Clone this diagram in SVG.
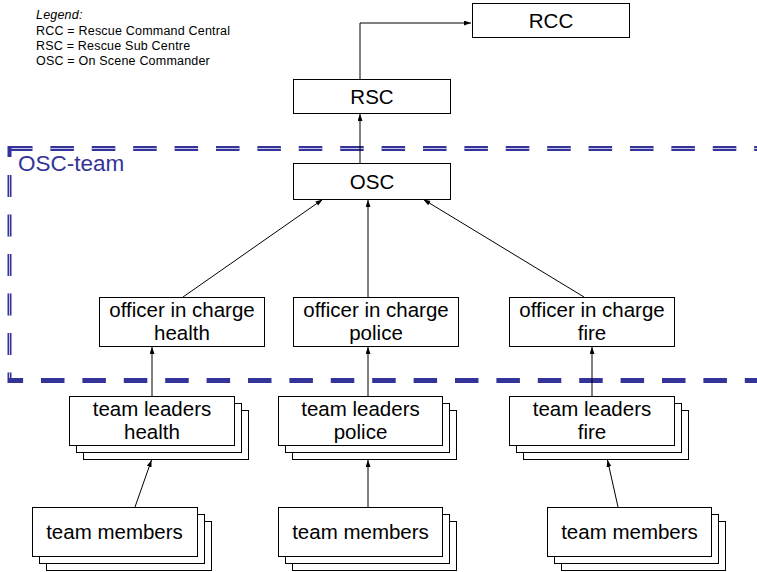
<svg xmlns="http://www.w3.org/2000/svg" width="757" height="572" viewBox="0 0 757 572">
<defs>
<marker id="arr" markerUnits="userSpaceOnUse" markerWidth="8" markerHeight="6" refX="7" refY="2.5" orient="auto"><path d="M0,0 L7,2.5 L0,5 z" fill="#000"/></marker>
<style>
.box{fill:#fff;stroke:#000;stroke-width:1}
.t{font-family:"Liberation Sans",Arial,sans-serif;font-size:20.5px;fill:#000;text-anchor:middle}
.lg{font-family:"Liberation Sans",Arial,sans-serif;font-size:12.5px;fill:#000;letter-spacing:0.2px}
.c{fill:none;stroke:#000;stroke-width:1;marker-end:url(#arr)}
.dl{fill:none;stroke:#333399}
</style>
</defs>
<rect width="757" height="572" fill="#fff"/>
<g id="legend">
<text class="lg" x="36" y="18.5" font-style="italic">Legend:</text>
<text class="lg" x="36" y="35">RCC = Rescue Command Central</text>
<text class="lg" x="36" y="50">RSC = Rescue Sub Centre</text>
<text class="lg" x="36" y="65">OSC = On Scene Commander</text>
</g>
<g id="osc-team">
<line class="dl" x1="9" y1="148.5" x2="757" y2="148.5" stroke-width="5" stroke-dasharray="23.5 17.9"/>
<line x1="9" y1="148.5" x2="757" y2="148.5" stroke="#c4c4e4" stroke-width="1.2" stroke-dasharray="23.5 17.9"/>
<line class="dl" x1="9.5" y1="146" x2="9.5" y2="157" stroke-width="4"/>
<line class="dl" x1="9.5" y1="175" x2="9.5" y2="383" stroke-width="4" stroke-dasharray="22 17.5"/>
<line x1="9.5" y1="175" x2="9.5" y2="383" stroke="#c4c4e4" stroke-width="1" stroke-dasharray="22 17.5"/>
<line class="dl" x1="8" y1="380.5" x2="757" y2="380.5" stroke-width="5" stroke-dasharray="23.5 17.9" stroke-dashoffset="8.4"/>
<text x="18" y="170.5" font-family="Liberation Sans, Arial, sans-serif" font-size="22.5px" fill="#333399">OSC-team</text>
</g>
<g id="connectors">
<path class="c" d="M360 79 V23 H471"/>
<path class="c" d="M360 163 V114"/>
<path class="c" d="M183 297 L322.5 199.5"/>
<path class="c" d="M368 297 V200"/>
<path class="c" d="M584 297 L423.5 199.5"/>
<path class="c" d="M152 396 V347"/>
<path class="c" d="M368 396 V347"/>
<path class="c" d="M592 396 V347"/>
<path class="c" d="M135 507 L151.5 460"/>
<path class="c" d="M368 507 V460"/>
<path class="c" d="M618 507 L607.5 460"/>
</g>
<g id="rcc"><rect class="box" x="472.5" y="3.5" width="157" height="34"/><text class="t" x="551" y="27.5">RCC</text></g>
<g id="rsc"><rect class="box" x="293.5" y="79.5" width="157" height="34"/><text class="t" x="372" y="104">RSC</text></g>
<g id="osc"><rect class="box" x="293.5" y="163.5" width="157" height="36"/><text class="t" x="372" y="188.5">OSC</text></g>
<g id="oic-health"><rect class="box" x="99.5" y="297.5" width="165" height="49"/><text class="t" x="182" y="317">officer in charge</text><text class="t" x="182" y="340">health</text></g>
<g id="oic-police"><rect class="box" x="293.5" y="297.5" width="165" height="49"/><text class="t" x="376" y="317">officer in charge</text><text class="t" x="376" y="340">police</text></g>
<g id="oic-fire"><rect class="box" x="509.5" y="297.5" width="165" height="49"/><text class="t" x="592" y="317">officer in charge</text><text class="t" x="592" y="340">fire</text></g>
<g id="tl-health"><rect class="box" x="83.5" y="410.5" width="165" height="49"/><rect class="box" x="76.5" y="403.5" width="165" height="49"/><rect class="box" x="69.5" y="396.5" width="165" height="49"/><text class="t" x="152" y="415.5">team leaders</text><text class="t" x="152" y="439">health</text></g>
<g id="tl-police"><rect class="box" x="292.5" y="410.5" width="164" height="49"/><rect class="box" x="285.5" y="403.5" width="164" height="49"/><rect class="box" x="278.5" y="396.5" width="164" height="49"/><text class="t" x="360.5" y="415.5">team leaders</text><text class="t" x="360.5" y="439">police</text></g>
<g id="tl-fire"><rect class="box" x="523.5" y="410.5" width="165" height="49"/><rect class="box" x="516.5" y="403.5" width="165" height="49"/><rect class="box" x="509.5" y="396.5" width="165" height="49"/><text class="t" x="592" y="415.5">team leaders</text><text class="t" x="592" y="439">fire</text></g>
<g id="tm-health"><rect class="box" x="46.5" y="521.5" width="165" height="49"/><rect class="box" x="39.5" y="514.5" width="165" height="49"/><rect class="box" x="32.5" y="507.5" width="165" height="49"/><text class="t" x="114.5" y="539">team members</text></g>
<g id="tm-police"><rect class="box" x="292.5" y="521.5" width="164" height="49"/><rect class="box" x="285.5" y="514.5" width="164" height="49"/><rect class="box" x="278.5" y="507.5" width="164" height="49"/><text class="t" x="360.5" y="539">team members</text></g>
<g id="tm-fire"><rect class="box" x="561.5" y="521.5" width="164" height="49"/><rect class="box" x="554.5" y="514.5" width="164" height="49"/><rect class="box" x="547.5" y="507.5" width="164" height="49"/><text class="t" x="629.5" y="539">team members</text></g>
</svg>
